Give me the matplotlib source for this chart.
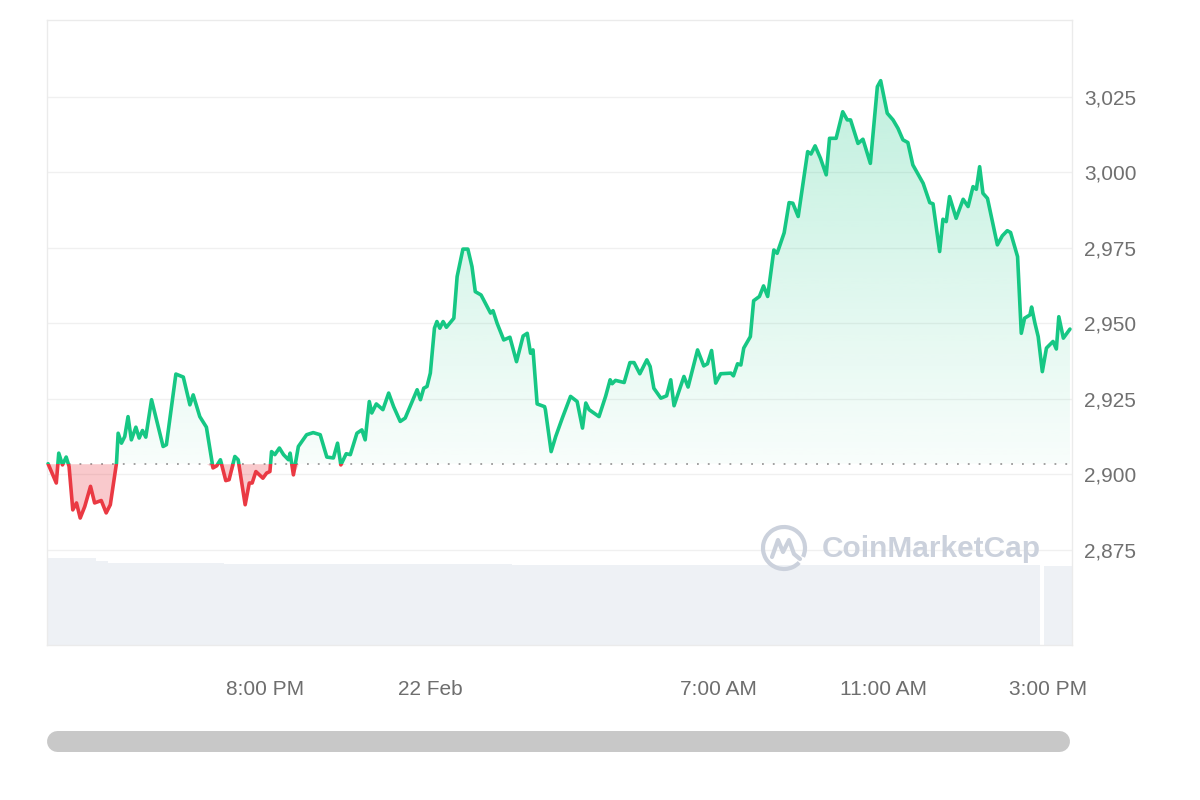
import matplotlib.pyplot as plt
import numpy as np
from matplotlib.colors import to_rgb
from matplotlib.lines import Line2D
from matplotlib.patches import Rectangle, Arc

plt.rcParams['font.family'] = ['Liberation Sans', 'DejaVu Sans']

# hours relative to midnight of 22 Feb
hours = [-9.26, -9.06, -9.00, -8.91, -8.82, -8.75, -8.66, -8.57, -8.48, -8.37,
         -8.23, -8.13, -7.97, -7.85, -7.75, -7.60, -7.56, -7.48, -7.40, -7.32,
         -7.24, -7.13, -7.05, -6.97, -6.89, -6.75, -6.63, -6.47, -6.39, -6.16,
         -5.98, -5.82, -5.74, -5.58, -5.42, -5.26, -5.17, -5.08, -4.95, -4.87,
         -4.73, -4.65, -4.48, -4.38, -4.31, -4.22, -4.05, -3.96, -3.88, -3.84,
         -3.76, -3.65, -3.55, -3.43, -3.39, -3.31, -3.19, -2.99, -2.83, -2.66,
         -2.50, -2.34, -2.24, -2.16, -2.03, -1.93, -1.77, -1.65, -1.57, -1.47,
         -1.41, -1.30, -1.14, -1.00, -0.88, -0.72, -0.60, -0.31, -0.23, -0.15,
         -0.07, 0.01, 0.11, 0.17, 0.24, 0.32, 0.40, 0.58, 0.66, 0.80,
         0.92, 1.02, 1.10, 1.24, 1.39, 1.47, 1.53, 1.63, 1.79, 1.94,
         2.10, 2.26, 2.36, 2.44, 2.50, 2.60, 2.78, 2.80, 2.94, 3.05,
         3.21, 3.41, 3.57, 3.70, 3.78, 3.86, 4.10, 4.26, 4.37, 4.42,
         4.50, 4.71, 4.85, 4.95, 5.09, 5.26, 5.34, 5.43, 5.60, 5.74,
         5.84, 5.92, 6.16, 6.26, 6.49, 6.64, 6.73, 6.83, 6.93, 7.05,
         7.30, 7.36, 7.46, 7.54, 7.61, 7.77, 7.85, 7.99, 8.09, 8.19,
         8.34, 8.42, 8.59, 8.71, 8.80, 8.93, 9.16, 9.24, 9.34, 9.47,
         9.61, 9.69, 9.85, 10.01, 10.12, 10.20, 10.38, 10.50, 10.68, 10.85,
         10.93, 11.09, 11.23, 11.35, 11.47, 11.59, 11.71, 11.96, 12.12, 12.20,
         12.36, 12.44, 12.52, 12.60, 12.76, 12.93, 13.05, 13.17, 13.25, 13.33,
         13.41, 13.52, 13.76, 13.88, 14.00, 14.08, 14.25, 14.34, 14.42, 14.55,
         14.59, 14.67, 14.75, 14.85, 14.95, 15.11, 15.19, 15.25, 15.36, 15.52]
prices = [2903.5, 2897.1, 2907.0, 2903.1, 2905.7, 2902.6, 2888.2, 2890.5, 2885.5, 2889.3,
          2896.0, 2890.5, 2891.3, 2887.2, 2889.9, 2903.7, 2913.6, 2910.3, 2912.5, 2919.1,
          2911.4, 2915.6, 2912.0, 2914.5, 2912.3, 2924.7, 2918.0, 2909.2, 2909.8, 2933.2,
          2932.2, 2923.0, 2926.3, 2919.1, 2915.6, 2902.1, 2902.8, 2904.8, 2897.9, 2898.2,
          2905.9, 2904.8, 2889.9, 2897.1, 2897.1, 2900.9, 2898.7, 2900.4, 2900.9, 2907.5,
          2906.5, 2908.7, 2906.5, 2904.8, 2907.0, 2899.8, 2909.2, 2913.1, 2913.8, 2913.1,
          2905.7, 2905.4, 2910.3, 2903.1, 2906.8, 2906.5, 2913.6, 2914.7, 2911.4, 2924.1,
          2920.3, 2923.3, 2921.4, 2926.9, 2922.4, 2917.5, 2918.6, 2928.0, 2924.7, 2928.5,
          2929.1, 2933.5, 2948.4, 2950.6, 2948.4, 2950.6, 2948.7, 2951.7, 2965.5, 2974.6,
          2974.6, 2968.8, 2960.5, 2959.4, 2955.5, 2953.4, 2954.2, 2950.0, 2944.5, 2945.4,
          2937.3, 2945.8, 2946.7, 2940.1, 2941.2, 2923.3, 2922.4, 2921.4, 2907.5, 2912.5,
          2918.6, 2925.8, 2924.1, 2915.3, 2923.6, 2921.4, 2919.1, 2925.8, 2931.3, 2930.0,
          2931.1, 2930.4, 2937.0, 2937.0, 2933.3, 2937.9, 2935.7, 2928.5, 2925.2, 2926.0,
          2931.3, 2922.7, 2932.4, 2928.9, 2941.2, 2935.9, 2936.6, 2941.0, 2930.2, 2933.3,
          2933.5, 2932.6, 2936.6, 2936.2, 2941.8, 2945.6, 2957.5, 2958.9, 2962.4, 2958.9,
          2974.3, 2973.2, 2980.0, 2990.0, 2989.8, 2985.4, 3006.9, 3006.1, 3008.8, 3004.7,
          2999.2, 3011.3, 3011.3, 3020.1, 3017.4, 3017.4, 3009.6, 3011.0, 3003.0, 3028.4,
          3030.4, 3019.6, 3017.4, 3014.6, 3010.8, 3009.9, 3002.5, 2996.4, 2990.0, 2989.6,
          2973.8, 2984.5, 2983.7, 2992.0, 2984.8, 2991.1, 2988.7, 2995.3, 2994.4, 3001.9,
          2993.1, 2991.4, 2976.0, 2979.0, 2980.7, 2980.1, 2972.1, 2946.7, 2951.7, 2952.8,
          2955.4, 2950.1, 2945.6, 2934.0, 2941.8, 2944.0, 2941.5, 2952.2, 2945.1, 2948.1]
open_price = 2903.5

# 24h volume (billions), drawn as a step area; 0 marks a missing bar
vol_hours = [-9.29, -8.1, -7.8, -5.0, 2.0, 14.80, 14.88, 15.56]
vol_values = [17.0, 16.4, 16.0, 15.8, 15.6, 0.0, 15.3, 15.3]

tick_hours = [-4, 0, 7, 11, 15]
tick_labels = ['8:00 PM', '22 Feb', '7:00 AM', '11:00 AM', '3:00 PM']
price_ticks = [2875, 2900, 2925, 2950, 2975, 3000, 3025]

GREEN = '#16c784'
RED = '#ea3943'
x0, x1 = -9.29, 15.56
y0, y1 = 2843.5, 3050.5
rect = [0.039, 0.194, 0.854, 0.781]

fig = plt.figure(figsize=(12, 8), dpi=100)

# volume behind the price chart
axv = fig.add_axes(rect, label='vol')
axv.fill_between(vol_hours, vol_values, step='post', color='#eef1f5', lw=0)
axv.set_xlim(x0, x1)
axv.set_ylim(0, 122)
axv.axis('off')

ax = fig.add_axes(rect, label='price')
ax.set_facecolor('none')
ax.set_axisbelow(True)

h = np.array(hours)
p = np.array(prices)

# green gradient area above the opening price
up = ax.fill_between(h, np.maximum(p, open_price), open_price, facecolor='none', lw=0)
grad = np.zeros((256, 1, 4))
grad[..., :3] = to_rgb(GREEN)
grad[..., 3] = np.linspace(0.03, 0.27, 256).reshape(-1, 1)
im = ax.imshow(grad, extent=[x0, x1, open_price, 3032], origin='lower',
               aspect='auto', zorder=1, interpolation='bicubic')
im.set_clip_path(up.get_paths()[0], transform=ax.transData)

# red area below the opening price
ax.fill_between(h, np.minimum(p, open_price), open_price,
                color=RED, alpha=0.27, lw=0, zorder=3.5)

# dotted opening price line
ax.axhline(open_price, color='#9a9a9a', lw=1.3, ls=(0, (1, 5)), zorder=3)

# price line, green above open and red below
for color, lo, hi in [(GREEN, open_price, y1 + 10), (RED, y0 - 10, open_price)]:
    ln, = ax.plot(h, p, color=color, lw=2.6, solid_joinstyle='round',
                  solid_capstyle='round', zorder=4)
    ln.set_clip_path(Rectangle((x0 - 1, lo), x1 - x0 + 2, hi - lo,
                               transform=ax.transData))

ax.set_xlim(x0, x1)
ax.set_ylim(y0, y1)
ax.yaxis.tick_right()
ax.set_yticks(price_ticks)
ax.set_yticklabels([f'{v:,}' for v in price_ticks])
ax.set_xticks(tick_hours)
ax.set_xticklabels(tick_labels)
ax.tick_params(axis='y', length=0, pad=9, labelsize=15, labelcolor='#707070')
ax.tick_params(axis='x', length=0, pad=25, labelsize=15, labelcolor='#6e6e6e')
ax.grid(axis='y', color='#f0f0f0', lw=1)
for s in ax.spines.values():
    s.set_color('#ebebeb')
    s.set_linewidth(1)

# watermark
wm = '#cbd1dc'
fig.text(822 / 1200, 1 - 549 / 800, 'CoinMarketCap', fontsize=21.5, fontweight='bold',
         color=wm, ha='left', va='center')
fig.add_artist(Arc((784 / 1200, 1 - 548 / 800), 42 / 1200, 42 / 800, theta1=-35, theta2=305,
                   color=wm, lw=3, transform=fig.transFigure))
mx = [772, 778, 783, 789, 794, 800]
my = [557, 540, 552, 540, 554, 559]
fig.add_artist(Line2D([v / 1200 for v in mx], [1 - v / 800 for v in my], color=wm, lw=3,
                      solid_joinstyle='round', solid_capstyle='round',
                      transform=fig.transFigure))

# scrollbar
fig.add_artist(Line2D([57 / 1200, 1059 / 1200], [1 - 740.5 / 800] * 2, lw=15.1,
                      color='#c8c8c8', solid_capstyle='round', transform=fig.transFigure))

fig.savefig('out.png', dpi=100, facecolor='white')
